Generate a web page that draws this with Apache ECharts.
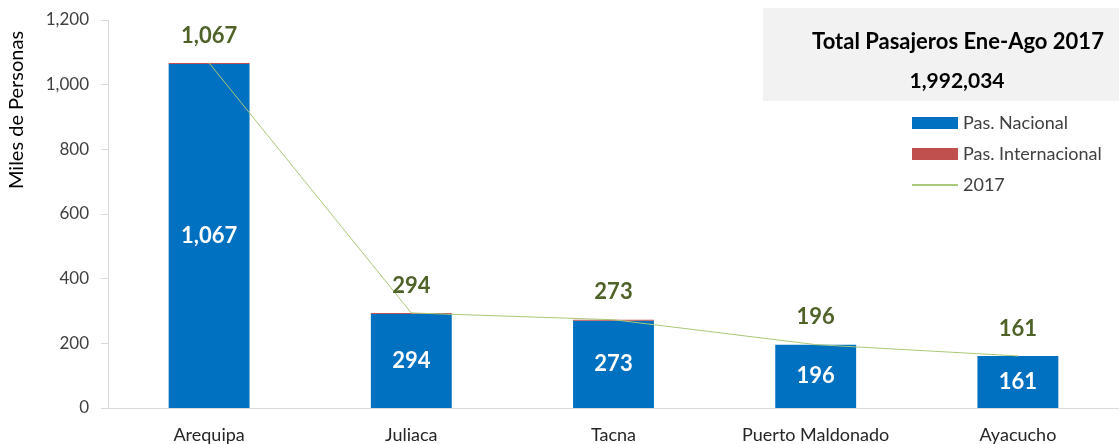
<!DOCTYPE html>
<html>
<head>
<meta charset="utf-8">
<script src="https://cdn.jsdelivr.net/npm/echarts@6/dist/echarts.min.js"></script>
<style>
  html, body { margin: 0; padding: 0; background: #fff; }
  #main { width: 1119px; height: 444px; }
</style>
</head>
<body>
<div id="main"></div>
<script>
// miles de personas, Ene-Ago 2017
var categories = ["Arequipa", "Juliaca", "Tacna", "Puerto Maldonado", "Ayacucho"];
var nacional = [1064, 291, 270, 196, 161];
var internacional = [3, 3, 3, 0, 0];
var total2017 = [1067, 294, 273, 196, 161];
var yTicks = [0, 200, 400, 600, 800, 1000, 1200];
var totalPasajeros = "1,992,034";

var fmt = function (v) { return Number(v).toLocaleString("en-US"); };

var chart = echarts.init(document.getElementById("main"));
var font = "Lato, 'Open Sans', sans-serif";

var option = {
  animation: false,
  textStyle: { fontFamily: font },
  grid: { left: 108, top: 20, width: 1015, height: 389 },
  graphic: [
    {
      type: "rect",
      shape: { x: 763, y: 8, width: 356, height: 93 },
      style: { fill: "#f2f2f2" },
      z: 0
    },
    {
      type: "text",
      x: 958, y: 42,
      style: {
        text: "Total Pasajeros Ene-Ago 2017",
        font: "bold 22px " + font,
        fill: "#000",
        align: "center",
        verticalAlign: "middle"
      }
    },
    {
      type: "text",
      x: 957, y: 81,
      style: {
        text: totalPasajeros,
        font: "bold 21px " + font,
        fill: "#000",
        align: "center",
        verticalAlign: "middle"
      }
    },
    {
      type: "text",
      x: 17, y: 110,
      rotation: Math.PI / 2,
      style: {
        text: "Miles de Personas",
        font: "20px " + font,
        fill: "#000",
        align: "center",
        verticalAlign: "middle"
      }
    }
  ],
  legend: {
    orient: "vertical",
    left: 906,
    top: 109,
    itemWidth: 46,
    itemHeight: 12,
    itemGap: 13,
    textStyle: { fontSize: 18, color: "#404040", fontFamily: font },
    data: [
      { name: "Pas. Nacional", icon: "rect" },
      { name: "Pas. Internacional", icon: "rect" },
      { name: "2017", itemStyle: { opacity: 0 } }
    ]
  },
  xAxis: {
    type: "category",
    data: categories,
    axisLine: { lineStyle: { color: "#d9d9d9" } },
    axisTick: { show: false },
    axisLabel: { color: "#262626", fontSize: 18, margin: 18, interval: 0 }
  },
  yAxis: {
    type: "value",
    min: 0,
    max: yTicks[yTicks.length - 1],
    interval: yTicks[1] - yTicks[0],
    splitLine: { show: false },
    axisLine: { show: true, lineStyle: { color: "#d9d9d9" } },
    axisTick: { show: true, length: 7, lineStyle: { color: "#d9d9d9" } },
    axisLabel: { color: "#404040", fontSize: 17, margin: 19, formatter: fmt }
  },
  series: [
    {
      name: "Pas. Nacional",
      type: "bar",
      stack: "pas",
      barWidth: "40%",
      itemStyle: { color: "#0070c0" },
      label: {
        show: true,
        position: "inside",
        color: "#fff",
        fontSize: 22,
        fontWeight: "bold",
        formatter: function (p) { return fmt(total2017[p.dataIndex]); }
      },
      data: nacional
    },
    {
      name: "Pas. Internacional",
      type: "bar",
      stack: "pas",
      itemStyle: { color: "#c0504d" },
      data: internacional
    },
    {
      name: "2017",
      type: "line",
      symbol: "circle",
      symbolSize: 1,
      z: 5,
      lineStyle: { color: "#a9c878", width: 1 },
      itemStyle: { color: "#a9c878" },
      label: {
        show: true,
        position: "top",
        distance: 16,
        color: "#4f6228",
        fontSize: 22,
        fontWeight: "bold",
        formatter: function (p) { return fmt(p.value); }
      },
      data: total2017
    }
  ]
};

chart.setOption(option);
</script>
</body>
</html>
